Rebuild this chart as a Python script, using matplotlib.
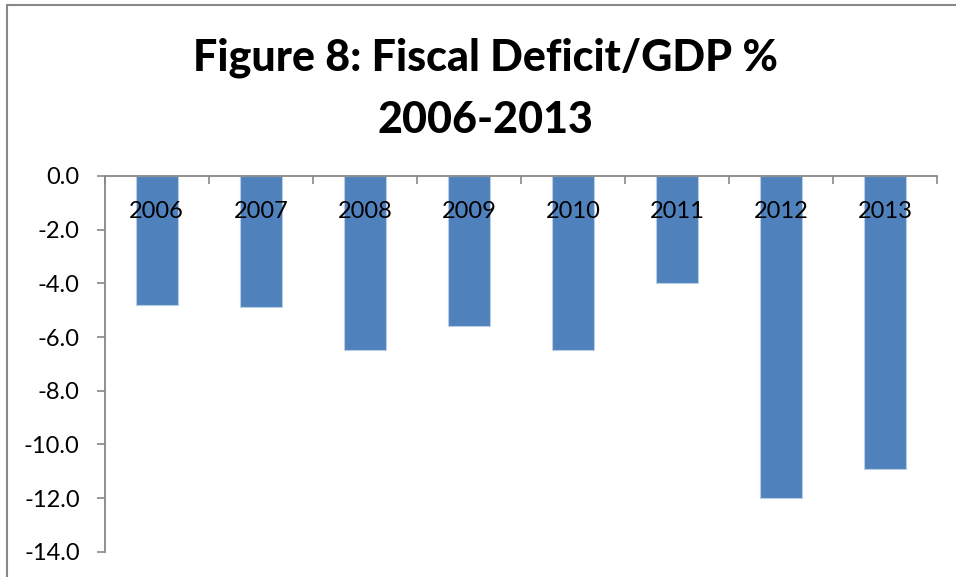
import matplotlib.pyplot as plt
from matplotlib.patches import Rectangle

years = ["2006", "2007", "2008", "2009", "2010", "2011", "2012", "2013"]
deficit = [-4.8, -4.9, -6.5, -5.6, -6.5, -4.0, -12.0, -10.9]
yticks = [0, -2, -4, -6, -8, -10, -12, -14]

plt.rcParams['font.family'] = ['Lato', 'DejaVu Sans']

fig = plt.figure(figsize=(9.56, 5.77), dpi=100)
ax = fig.add_axes([0.1095, 0.0438, 0.871, 0.6512])

x = list(range(len(years)))
ax.bar(x, deficit, width=0.4, color='#4F81BD', edgecolor='#B9CDE5', linewidth=0.8, zorder=1)

# zero line carries the category axis
ax.spines['bottom'].set_position(('data', 0))
for s in ['top', 'right']:
    ax.spines[s].set_visible(False)
for s in ['left', 'bottom']:
    ax.spines[s].set_color('#888888')
    ax.spines[s].set_linewidth(1.3)

ax.set_ylim(-14, 0)
ax.set_xlim(-0.5, len(years) - 0.5)
ax.set_yticks(yticks)
ax.set_yticklabels([f"{v:.1f}" for v in yticks])

# category labels sit just under the zero line, ticks at category boundaries
ax.set_xticks(x)
ax.set_xticklabels(years)
ax.set_xticks([i - 0.5 for i in range(len(years) + 1)], minor=True)
ax.tick_params(axis='x', which='major', length=0, pad=18, labelsize=17)
ax.tick_params(axis='x', which='minor', length=6, width=1.2, color='#888888', direction='out')
ax.tick_params(axis='y', length=6, width=1.2, color='#888888', pad=12, labelsize=17)
ax.xaxis.set_zorder(3)

fig.text(0.508, 1 - 58 / 577, "Figure 8: Fiscal Deficit/GDP %", ha='center', va='center',
         fontsize=31, fontweight='black')
fig.text(0.508, 1 - 120 / 577, "2006-2013", ha='center', va='center',
         fontsize=31, fontweight='black')

# chart area frame
fig.patches.append(Rectangle((7 / 956, -0.1), 1.2, 1.1 - 5 / 577, transform=fig.transFigure,
                             fill=False, edgecolor='#888888', linewidth=1.5))

fig.savefig('out.png', dpi=100)
